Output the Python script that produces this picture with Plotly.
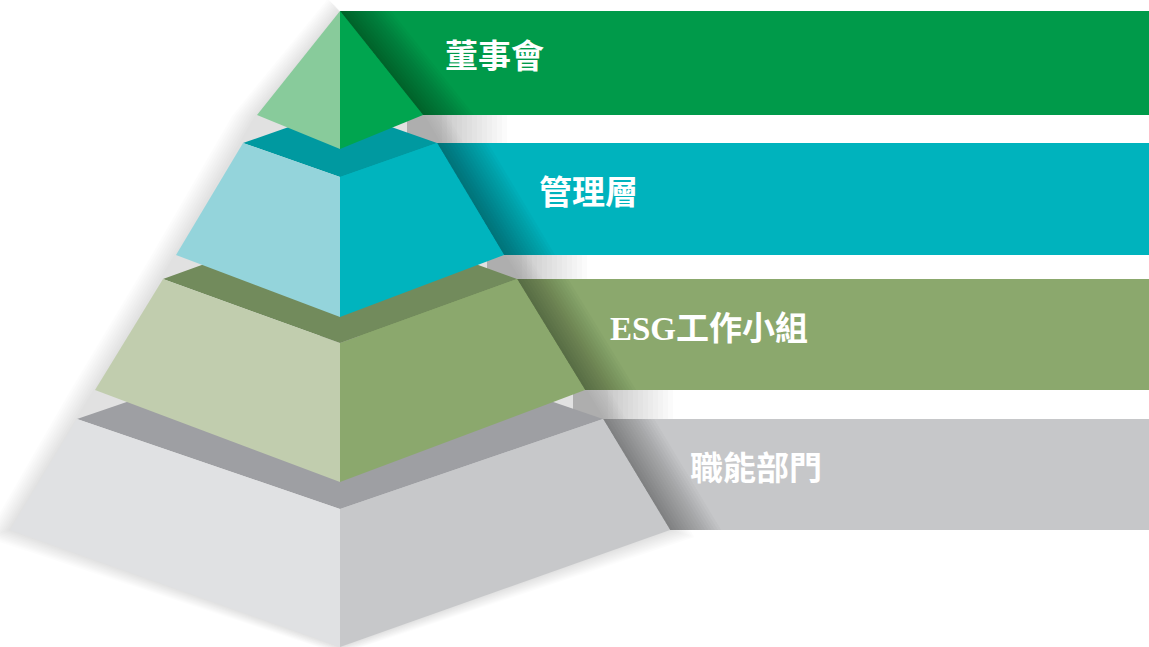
import plotly.graph_objects as go

# ---- data ----
tiers = ["董事會", "管理層", "ESG工作小組", "職能部門"]
banner_colors = ["#009A4A", "#00B3BD", "#8BA86D", "#C6C7C9"]
left_colors = ["#88CB9B", "#94D4DB", "#C1CDAE", "#E0E1E3"]
right_colors = ["#00A54F", "#00B4BE", "#8BA86D", "#C7C8CA"]
top_colors = [None, "#0099A0", "#728B5C", "#9E9FA3"]

# ---- layout geometry (pixel space) ----
W, H = 1149, 647
CX = 340
# (top_y, top_halfwidth, top_front_offset, bottom_y, bottom_halfwidth, bottom_front_offset)
geom = [
    (11, 0, 0, 115, 83, 34),
    (143, 97, 34, 255, 164, 62),
    (279, 177, 64, 390, 245, 92),
    (419, 263, 90, 530, 330, 117),
]
banner_y = [(11, 115), (143, 255), (279, 390), (419, 530)]
text_x = [443, 537, 608, 688]

fig = go.Figure()


def poly(xs, ys, color, opacity=1.0):
    fig.add_trace(go.Scatter(
        x=list(xs) + [xs[0]], y=list(ys) + [ys[0]], mode="lines",
        fill="toself", fillcolor=color, line=dict(width=0, color=color),
        opacity=opacity, hoverinfo="skip", showlegend=False))


# soft halo shadow around pyramid
g = geom
for k in range(10):
    d = 2 + k * 2.5
    xs = [CX - d * 0.5, g[0][4] + CX + d, g[1][4] + CX + d, g[2][4] + CX + d, g[3][4] + CX + d,
          CX, -g[3][4] + CX - d, -g[2][4] + CX - d, -g[1][4] + CX - d, -g[0][4] + CX - d]
    ys = [g[0][0] - d * 0.5, g[0][3], g[1][3], g[2][3], g[3][3] + d * 0.3,
          g[3][3] + g[3][5] + d * 0.3, g[3][3] + d * 0.3, g[2][3], g[1][3], g[0][3]]
    poly(xs, ys, "#000000", 0.01)

# banners
for i, (y0, y1) in enumerate(banner_y):
    poly([CX, W, W, CX], [y0, y0, y1, y1], banner_colors[i])

# shadows cast on banners by the right faces
for i, (y0, y1) in enumerate(banner_y):
    ty, thw, tfo, by, bhw, bfo = geom[i]
    x_top = CX + thw
    x_bot = CX + bhw
    n = 16
    for k in range(n):
        d = (k + 1) * 3.2
        poly([x_top, x_top + d, x_bot + d, x_bot], [y0, y0, y1, y1], "#000000", 0.022)

# gray shadow in the gaps next to the pyramid
for i in range(1, 4):
    gy0 = banner_y[i - 1][1]
    gy1 = banner_y[i][0]
    xr = CX + geom[i][1]
    for k in range(14):
        d = (k + 1) * 5
        poly([xr - 30, xr + d, xr + d, xr - 30], [gy0, gy0, gy1, gy1], "#000000", 0.016)

# pyramid tiers, bottom to top so upper tiers overlap
for i in reversed(range(4)):
    ty, thw, tfo, by, bhw, bfo = geom[i]
    if i > 0:
        # top face rhombus
        poly([CX - thw, CX, CX + thw, CX], [ty, ty - tfo, ty, ty + tfo], top_colors[i])
    # left face
    poly([CX - thw, CX, CX, CX - bhw], [ty, ty + tfo, by + bfo, by], left_colors[i])
    # right face
    poly([CX, CX + thw, CX + bhw, CX], [ty + tfo, ty, by, by + bfo], right_colors[i])

# labels
for i, name in enumerate(tiers):
    y0, y1 = banner_y[i]
    fig.add_annotation(x=text_x[i], y=(y0 + y1) / 2 - 6, text="<b>" + name + "</b>",
                       showarrow=False, xanchor="left", yanchor="middle",
                       font=dict(family="Liberation Serif, Noto Sans CJK TC", size=33, color="white"))

fig.update_layout(
    width=W, height=H, autosize=False,
    margin=dict(l=0, r=0, t=0, b=0),
    paper_bgcolor="white", plot_bgcolor="white",
    xaxis=dict(range=[0, W], visible=False, fixedrange=True),
    yaxis=dict(range=[H, 0], visible=False, fixedrange=True),
    showlegend=False,
)
fig.write_html("out.html", config={"displayModeBar": False},
               post_script="document.body.style.margin='0';document.body.style.overflow='hidden';")
